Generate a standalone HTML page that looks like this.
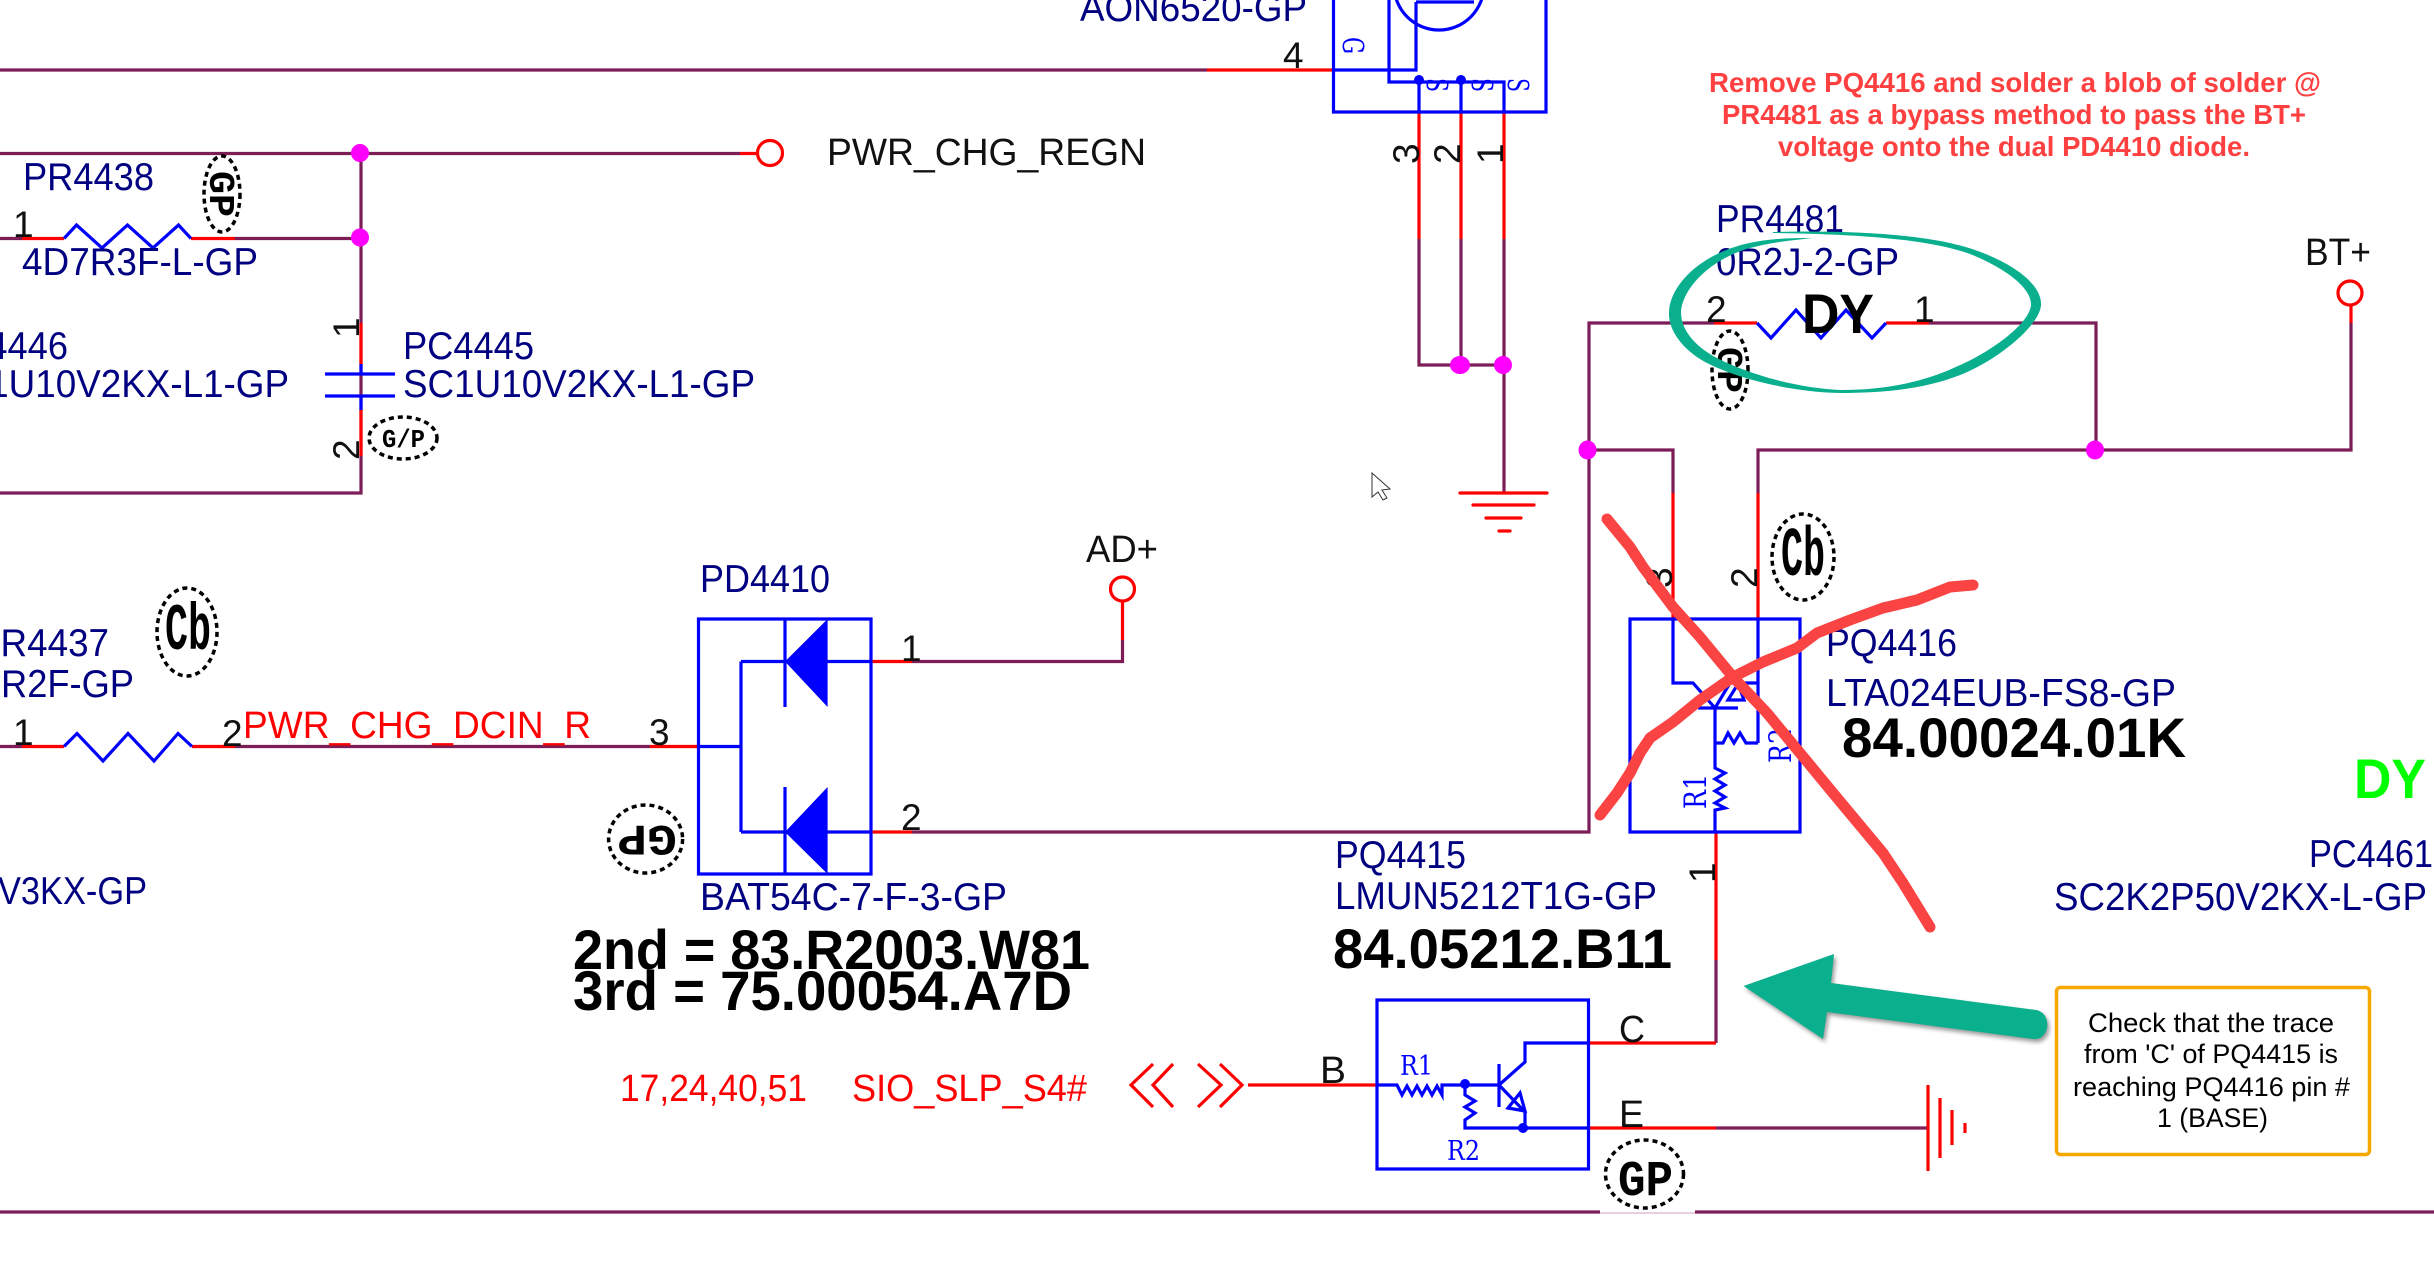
<!DOCTYPE html>
<html><head><meta charset="utf-8"><style>
html,body{margin:0;padding:0;background:#fff}
svg{display:block}
text{font-family:"Liberation Sans",Arial,sans-serif}
.n{font-size:39px;fill:#000080;transform:translateX(-1px)}
.k{font-size:38px;fill:#111}
.p{font-size:37px;fill:#111}
.r{font-size:38px;fill:#ff0000}
.b{font-size:56px;font-weight:bold;fill:#000}
.a{font-size:27.5px;font-weight:bold;fill:#ff4040}
.t{font-size:27px;fill:#000}
.s{font-family:"DejaVu Serif",serif;font-size:27px;fill:#0000ff}
.w{fill:none;stroke:#7d1d58;stroke-width:3.2}
.e{fill:none;stroke:#ff0000;stroke-width:3.2}
.u{fill:none;stroke:#0000ff;stroke-width:3.2}
.j{fill:#ff00ff}
.g{fill:none;stroke:#000;stroke-width:3.5;stroke-dasharray:5 4}
.q{font-family:"Liberation Mono",monospace;font-weight:bold;fill:#000}
</style></head><body>
<svg xmlns="http://www.w3.org/2000/svg" width="2434" height="1270" viewBox="0 0 2434 1270">
<rect width="2434" height="1270" fill="#fff"/>

<!-- maroon wires -->
<path class="w" d="M0 70H1207M0 153.5H740M0 238.5H22M235 238.5H361M361 153V493H0"/>
<path class="w" d="M0 746.5H22M235 746.5H650M912 661.5H1122.5V640M912 832H1589V323H1714M1929 323H2096V450M1589 450H1673V493M1758 493V450H2351V323"/>
<path class="w" d="M1419 239V365H1504M1461 239V365M1504 239V493"/>
<path class="w" d="M1716 960V1043M1716 1128H1927"/>
<path class="w" d="M0 1212H1600M1695 1212H2434"/>
<path d="M1600 1213H1695" stroke="#e8cfe0" stroke-width="2" fill="none"/>

<!-- red wire sections -->
<path class="e" d="M1207 70H1333M740 153.5H758M22 238.5H64M191 238.5H235M361 323V364M361 410V456"/>
<path class="e" d="M1419 112V239M1461 112V239M1504 112V239"/>
<path class="e" d="M22 746.5H64M192 746.5H235M650 746.5H698.5M871 661.5H912M871 832H912M1122.5 640V601"/>
<path class="e" d="M1714 323H1757M1886 323H1929M1673 493V619M1758 493V619M2351 323V305"/>
<path class="e" d="M1716 832V960M1589 1043H1716M1589 1128H1716M1248 1085H1376"/>
<path class="e" stroke-linecap="round" d="M1460 493H1547M1473 505H1534M1486 518H1521M1499 531H1510"/>
<path class="e" d="M1928 1085V1171M1940 1098V1158M1952 1110V1145M1965 1123V1133"/>
<circle cx="770" cy="153" r="12.5" fill="#fff" stroke="#f00" stroke-width="3.2"/>
<circle cx="1122.5" cy="589" r="12" fill="#fff" stroke="#f00" stroke-width="3.2"/>
<circle cx="2350" cy="293" r="12" fill="#fff" stroke="#f00" stroke-width="3.2"/>
<path class="e" d="M1153 1064L1131 1085L1153 1107M1173 1064L1153 1085L1173 1107M1198 1064L1221 1085L1198 1107M1220 1064L1242 1085L1220 1107"/>

<!-- junctions -->
<ellipse class="j" cx="360" cy="153" rx="9" ry="9"/>
<ellipse class="j" cx="360" cy="237.5" rx="9" ry="9"/>
<ellipse class="j" cx="1460" cy="365" rx="10" ry="9"/>
<ellipse class="j" cx="1503" cy="365" rx="9" ry="9"/>
<ellipse class="j" cx="1587.5" cy="450" rx="9" ry="9.5"/>
<ellipse class="j" cx="2095" cy="450" rx="9" ry="9.5"/>

<!-- resistors / cap -->
<path class="u" d="M64 238.5L76.5 225L102 248L127.5 225L153 248L178.5 225L191 238.5"/>
<path class="u" d="M64 746.5L77 733.5L103 761L128 733.5L154 761L178 733.5L192 746.5"/>
<path class="u" d="M1757 323L1771 338L1796 310L1821 338L1846 310L1872 338L1886 323"/>
<path class="u" d="M361 364V374M325 374H395M325 396H395M361 396V410"/>

<!-- top MOSFET -->
<path class="u" d="M1333.5 0V112H1546V0M1389 0V82H1504V112M1419 82V112M1461 82V112M1333 70H1416V2M1416 2H1474"/>
<ellipse class="u" cx="1439" cy="-15" rx="45" ry="45"/>
<circle cx="1419" cy="80" r="5" fill="#00f"/><circle cx="1461" cy="80" r="5" fill="#00f"/>
<text class="s" style="font-size:29px" transform="translate(1343,37) rotate(90)" textLength="17" lengthAdjust="spacingAndGlyphs">G</text>
<text class="s" style="font-size:29px" transform="translate(1427,78) rotate(90)" textLength="14" lengthAdjust="spacingAndGlyphs">S</text>
<text class="s" style="font-size:29px" transform="translate(1472,78) rotate(90)" textLength="14" lengthAdjust="spacingAndGlyphs">S</text>
<text class="s" style="font-size:29px" transform="translate(1508,78) rotate(90)" textLength="14" lengthAdjust="spacingAndGlyphs">S</text>

<!-- PD4410 -->
<path class="u" d="M698.5 619H871V874H698.5ZM698.5 746.5H741M741 661.5V832M741 661.5H871M741 832H871M785 619V707M785 787V874"/>
<path d="M785 661.5L827.6 619V707ZM785 832L827.6 787V874Z" fill="#00f"/>

<!-- PQ4416 -->
<path class="u" d="M1630 619H1800V832H1630ZM1673 619V683H1693L1715 708M1698 708H1738M1758 619V743M1758 683H1730L1715 708M1715 708V768L1725 773L1715 779L1725 785L1715 791L1725 797L1715 803L1725 808L1715 810V832M1715 743H1723L1728 733L1734 743L1740 733L1746 743H1758"/>
<path class="u" d="M1728 700L1738 684L1744 700Z"/>
<text class="s" style="font-size:31px" transform="translate(1706,809) rotate(-90)" textLength="35" lengthAdjust="spacingAndGlyphs">R1</text>
<text class="s" style="font-size:31px" transform="translate(1791,763) rotate(-90)" textLength="35" lengthAdjust="spacingAndGlyphs">R2</text>

<!-- PQ4415 -->
<path class="u" d="M1377 1000H1588.5V1169H1377ZM1377 1085H1397L1402 1095L1407 1086L1412 1095L1417 1086L1422 1095L1427 1086L1432 1095L1437 1086L1442 1095V1085H1499M1499 1064V1107M1499 1085L1525 1062V1043H1588.5M1499 1085L1525 1112V1128M1465 1085V1095L1475 1101L1465 1107L1475 1113L1465 1120V1128H1588.5"/>
<path class="u" d="M1525 1111L1508 1108L1520 1093Z"/>
<circle cx="1465" cy="1084" r="5" fill="#00f"/><circle cx="1523" cy="1128" r="5" fill="#00f"/>
<text class="s" x="1400" y="1075" textLength="33" lengthAdjust="spacingAndGlyphs">R1</text>
<text class="s" x="1447" y="1160" textLength="33" lengthAdjust="spacingAndGlyphs">R2</text>

<!-- navy labels -->
<text class="n" x="1081" y="21" textLength="227" lengthAdjust="spacingAndGlyphs">AON6520-GP</text>
<text class="n" x="24" y="190" textLength="131" lengthAdjust="spacingAndGlyphs">PR4438</text>
<text class="n" x="23" y="275" textLength="236" lengthAdjust="spacingAndGlyphs">4D7R3F-L-GP</text>
<text class="n" x="-62" y="359" textLength="131" lengthAdjust="spacingAndGlyphs">PC4446</text>
<text class="n" x="-62" y="397" textLength="352" lengthAdjust="spacingAndGlyphs">SC1U10V2KX-L1-GP</text>
<text class="n" x="404" y="359" textLength="131" lengthAdjust="spacingAndGlyphs">PC4445</text>
<text class="n" x="404" y="397" textLength="352" lengthAdjust="spacingAndGlyphs">SC1U10V2KX-L1-GP</text>
<text class="n" x="-23" y="656" textLength="133" lengthAdjust="spacingAndGlyphs">PR4437</text>
<text class="n" x="2" y="697" textLength="133" lengthAdjust="spacingAndGlyphs">R2F-GP</text>
<text class="n" x="-1" y="904" textLength="149" lengthAdjust="spacingAndGlyphs">V3KX-GP</text>
<text class="n" x="701" y="592" textLength="130" lengthAdjust="spacingAndGlyphs">PD4410</text>
<text class="n" x="701" y="910" textLength="307" lengthAdjust="spacingAndGlyphs">BAT54C-7-F-3-GP</text>
<text class="n" x="1717" y="232" textLength="128" lengthAdjust="spacingAndGlyphs">PR4481</text>
<text class="n" x="1717" y="275" textLength="183" lengthAdjust="spacingAndGlyphs">0R2J-2-GP</text>
<text class="n" x="1827" y="656" textLength="131" lengthAdjust="spacingAndGlyphs">PQ4416</text>
<text class="n" x="1827" y="706" textLength="350" lengthAdjust="spacingAndGlyphs">LTA024EUB-FS8-GP</text>
<text class="n" x="1336" y="868" textLength="131" lengthAdjust="spacingAndGlyphs">PQ4415</text>
<text class="n" x="1336" y="909" textLength="322" lengthAdjust="spacingAndGlyphs">LMUN5212T1G-GP</text>
<text class="n" x="2310" y="867" textLength="124" lengthAdjust="spacingAndGlyphs">PC4461</text>
<text class="n" x="2055" y="910" textLength="373" lengthAdjust="spacingAndGlyphs">SC2K2P50V2KX-L-GP</text>

<!-- black labels -->
<text class="k" x="827" y="165" textLength="319" lengthAdjust="spacingAndGlyphs">PWR_CHG_REGN</text>
<text class="k" x="2305" y="265" textLength="66" lengthAdjust="spacingAndGlyphs">BT+</text>
<text class="k" x="1086" y="562" textLength="72" lengthAdjust="spacingAndGlyphs">AD+</text>
<text class="k" x="1619" y="1042" textLength="26" lengthAdjust="spacingAndGlyphs">C</text>
<text class="k" x="1619" y="1127" textLength="25" lengthAdjust="spacingAndGlyphs">E</text>
<text class="k" x="1320" y="1083" textLength="26" lengthAdjust="spacingAndGlyphs">B</text>

<!-- pin numbers -->
<text class="p" x="1283" y="68">4</text>
<text class="p" x="13" y="237">1</text>
<text class="p" x="13" y="745">1</text>
<text class="p" x="222" y="746">2</text>
<text class="p" x="649" y="745">3</text>
<text class="p" x="901" y="661">1</text>
<text class="p" x="901" y="830">2</text>
<text class="p" x="1706" y="322">2</text>
<text class="p" x="1914" y="322">1</text>
<text class="p" transform="translate(359,338) rotate(-90)">1</text>
<text class="p" transform="translate(359,460) rotate(-90)">2</text>
<text class="p" transform="translate(1419,164) rotate(-90)">3</text>
<text class="p" transform="translate(1460,164) rotate(-90)">2</text>
<text class="p" transform="translate(1503,164) rotate(-90)">1</text>
<text class="p" transform="translate(1672,588) rotate(-90)">3</text>
<text class="p" transform="translate(1757,588) rotate(-90)">2</text>
<text class="p" transform="translate(1715,883) rotate(-90)">1</text>

<!-- red labels -->
<text class="r" x="243" y="738" textLength="348" lengthAdjust="spacingAndGlyphs">PWR_CHG_DCIN_R</text>
<text class="r" x="620" y="1101" textLength="187" lengthAdjust="spacingAndGlyphs">17,24,40,51</text>
<text class="r" x="852" y="1101" textLength="235" lengthAdjust="spacingAndGlyphs">SIO_SLP_S4#</text>

<!-- bold labels -->
<text class="b" x="573" y="969" textLength="517" lengthAdjust="spacingAndGlyphs">2nd = 83.R2003.W81</text>
<text class="b" x="573" y="1010" textLength="499" lengthAdjust="spacingAndGlyphs">3rd = 75.00054.A7D</text>
<text class="b" x="1333" y="968" textLength="339" lengthAdjust="spacingAndGlyphs">84.05212.B11</text>
<text class="b" x="1842" y="757" textLength="344" lengthAdjust="spacingAndGlyphs">84.00024.01K</text>
<text class="b" x="1802" y="333" textLength="72" lengthAdjust="spacingAndGlyphs">DY</text>
<text class="b" x="2354" y="798" textLength="72" lengthAdjust="spacingAndGlyphs" style="fill:#00ff00">DY</text>

<!-- bubbles -->
<ellipse class="g" cx="222" cy="194" rx="18" ry="38"/>
<text class="q" style="font-size:36px" transform="translate(210,171) rotate(90)" textLength="46" lengthAdjust="spacingAndGlyphs">GP</text>
<ellipse class="g" cx="1730" cy="370" rx="18" ry="39"/>
<text class="q" style="font-size:36px" transform="translate(1718,347) rotate(90)" textLength="46" lengthAdjust="spacingAndGlyphs">GP</text>
<ellipse class="g" cx="403" cy="438" rx="34" ry="21"/>
<text class="q" style="font-size:26px" x="382" y="447" textLength="43" lengthAdjust="spacingAndGlyphs">G/P</text>
<ellipse class="g" cx="187" cy="632" rx="30" ry="44"/>
<text class="q" style="font-size:66px" x="165" y="649" textLength="46" lengthAdjust="spacingAndGlyphs">Cb</text>
<ellipse class="g" cx="1803" cy="557" rx="31" ry="43"/>
<text class="q" style="font-size:70px" x="1781" y="575" textLength="44" lengthAdjust="spacingAndGlyphs">Cb</text>
<ellipse class="g" cx="645.6" cy="839" rx="37" ry="34"/>
<text class="q" style="font-size:44px" transform="translate(677,826) rotate(180)" textLength="60" lengthAdjust="spacingAndGlyphs">GP</text>
<ellipse class="g" cx="1644.5" cy="1174" rx="39" ry="34"/>
<text class="q" style="font-size:50px" x="1618" y="1195" textLength="55" lengthAdjust="spacingAndGlyphs">GP</text>

<!-- cursor -->
<path d="M1372 473V497L1378 492L1383 500L1387 498L1382 490L1390 489Z" fill="#fff" stroke="#333" stroke-width="1"/>

<!-- annotation text -->
<text class="a" x="1709" y="92" textLength="612" lengthAdjust="spacingAndGlyphs">Remove PQ4416 and solder a blob of solder @</text>
<text class="a" x="1722" y="124" textLength="584" lengthAdjust="spacingAndGlyphs">PR4481 as a bypass method to pass the BT+</text>
<text class="a" x="1778" y="156" textLength="472" lengthAdjust="spacingAndGlyphs">voltage onto the dual PD4410 diode.</text>

<!-- hand-drawn green ellipse -->
<path d="M1773 232C1850 230 1930 234 1975 250C2015 264 2042 285 2041 305C2040 325 2000 358 1965 373C1925 390 1880 393 1840 393C1790 392 1735 378 1705 362C1680 348 1668 328 1669 312C1670 285 1700 255 1745 244C1770 238 1795 238 1813 238C1795 240 1772 242 1750 248C1708 260 1682 290 1681 312C1681 330 1695 346 1715 357C1745 373 1795 388 1840 390C1880 390 1920 384 1958 366C1995 350 2030 322 2031 305C2032 288 2005 268 1970 254C1925 238 1850 234 1773 233Z" fill="#0aaf8e"/>

<!-- red X -->
<path d="M1607 519L1630 547L1643 567L1673 607L1700 637L1733 677L1767 713L1800 753L1833 793L1883 853L1903 883L1930 927" fill="none" stroke="#fa4444" stroke-width="11" stroke-linecap="round" stroke-linejoin="round"/>
<path d="M1600 815L1617 793L1630 773L1640 753L1650 738L1673 722L1700 700L1733 677L1763 662L1797 648L1817 633L1850 620L1883 608L1917 600L1950 587L1973 585" fill="none" stroke="#fa4444" stroke-width="11" stroke-linecap="round" stroke-linejoin="round"/>

<!-- green arrow -->
<path d="M1743.5 986L1834 954L1831 983L2036 1010C2053 1013 2050 1041 2033 1039L1827 1012L1823 1039Z" fill="#0aaf8e" style="filter:drop-shadow(2px 3px 2px rgba(0,0,0,.4))"/>

<!-- callout -->
<rect x="2056.5" y="987.5" width="313" height="167" rx="4" fill="#fff" stroke="#f7a800" stroke-width="3.5"/>
<text class="t" x="2088" y="1032" textLength="246" lengthAdjust="spacingAndGlyphs">Check that the trace</text>
<text class="t" x="2084" y="1063" textLength="254" lengthAdjust="spacingAndGlyphs">from 'C' of PQ4415 is</text>
<text class="t" x="2073" y="1096" textLength="277" lengthAdjust="spacingAndGlyphs">reaching PQ4416 pin #</text>
<text class="t" x="2157" y="1127" textLength="111" lengthAdjust="spacingAndGlyphs">1 (BASE)</text>
</svg>
</body></html>
